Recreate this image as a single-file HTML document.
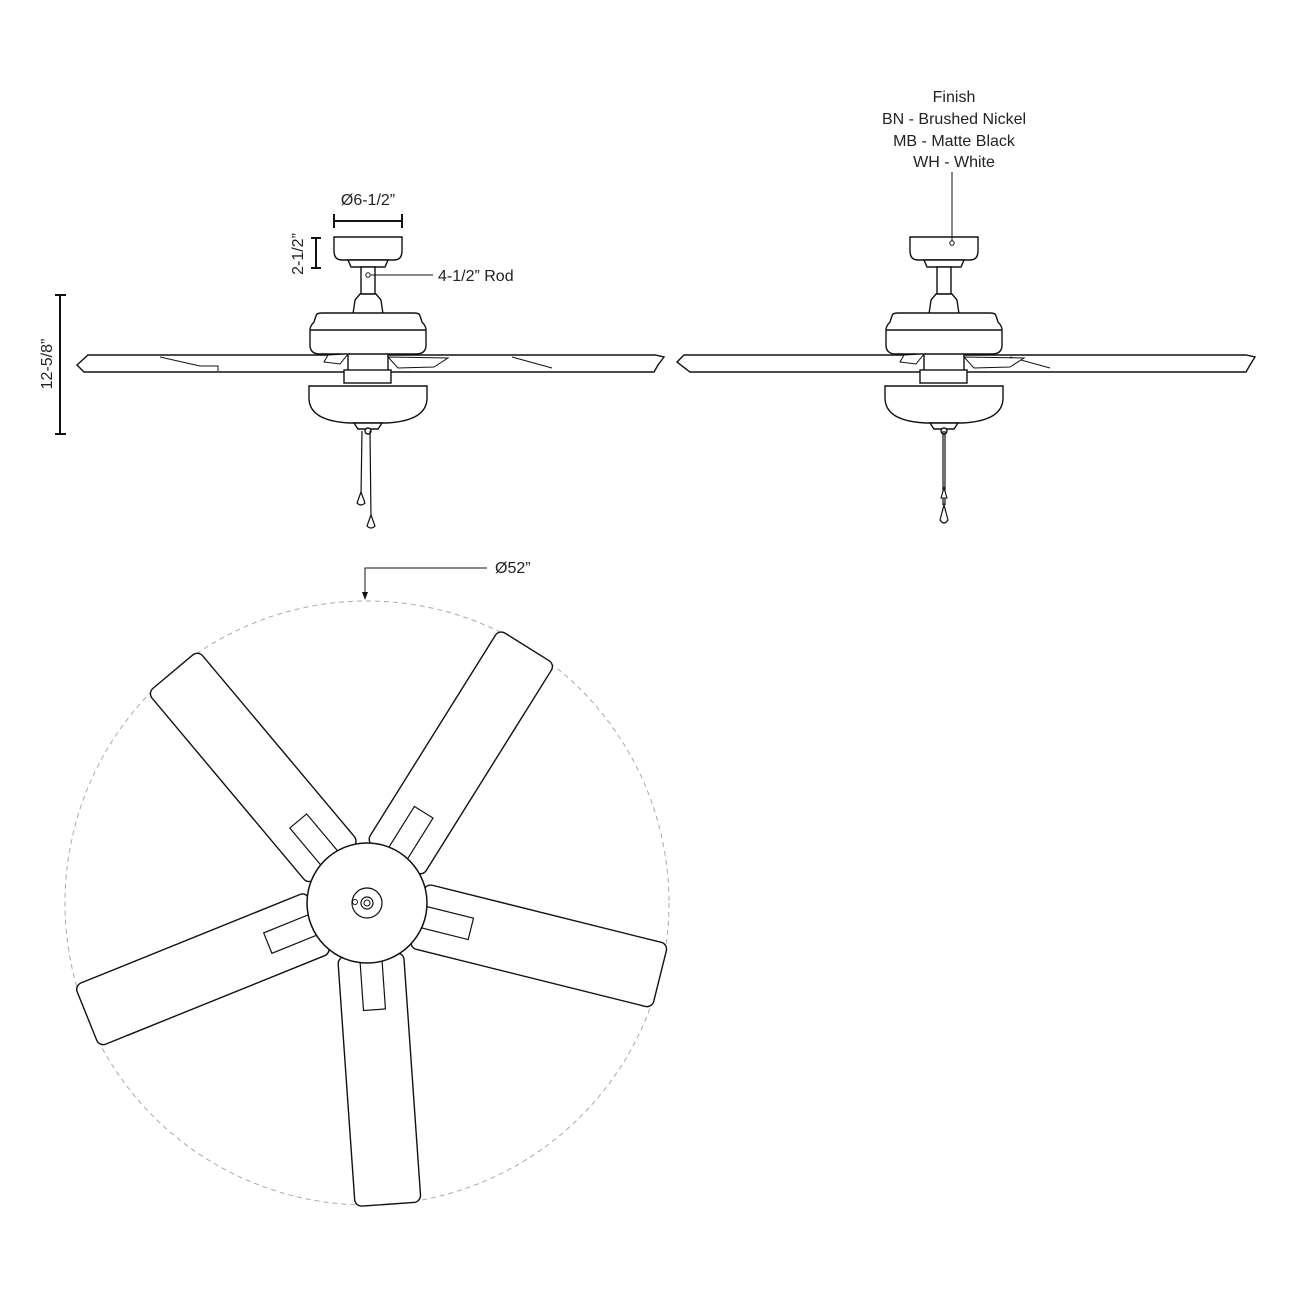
<!DOCTYPE html>
<html><head><meta charset="utf-8"><style>
html,body{margin:0;padding:0;background:#fff;}
svg{display:block;}
text{font-family:"Liberation Sans",Arial,sans-serif;fill:#222;}
</style></head><body>
<svg width="1296" height="1296" viewBox="0 0 1296 1296" xmlns="http://www.w3.org/2000/svg">
<defs>
<g id="fan" fill="#fff" stroke="#111" stroke-width="1.4">
  <path d="M-34,-129 H34 V-115 Q34,-106 26,-106 H-26 Q-34,-106 -34,-115 Z"/>
  <path d="M-20,-106 H20 L17,-99 H-17 Z"/>
  <rect x="-7" y="-99" width="14" height="27"/>
  <path d="M-8,-72 H8 L13,-66 L15,-52 H-15 L-13,-66 Z"/>
  <path d="M-52,-50 Q-52,-53 -46,-53 H46 Q52,-53 52,-50 L54,-44 Q58,-40 58,-36 V-21 Q58,-12 48,-12 H-48 Q-58,-12 -58,-21 V-36 Q-58,-40 -54,-44 Z"/>
  <line x1="-58" y1="-36" x2="58" y2="-36"/>
  <path d="M20,-9 L80,-8 L66,1 L30,2 Z" stroke-width="1"/>
  <path d="M-40,-11 L-20,-12 L-28,-2 L-44,-4 Z" stroke-width="1"/>
  <rect x="-24" y="4" width="47" height="13"/>
  <path d="M-59,20 H59 V32 Q59,55 18,57 H-18 Q-59,55 -59,32 Z"/>
  <path d="M-14,57 H14 L10,63 H-10 Z"/>
  <circle cx="0" cy="65" r="3"/>
</g>
<g id="blade">
  <rect x="52" y="-33" width="250" height="66" rx="7" fill="#fff" stroke="#111" stroke-width="1.4"/>
  <rect x="55" y="-11" width="52" height="22" fill="#fff" stroke="#111" stroke-width="1.2"/>
</g>
</defs>

<!-- Left side view blades -->
<g fill="#fff" stroke="#111" stroke-width="1.4">
  <path d="M77,365 L88,355 H348 V372 H84 Z"/>
  <path d="M160,357 L200,366 H218 V371" fill="none" stroke-width="1"/>
  <path d="M388,355 H655 L664,357 L658,365 L654,372 H388 Z"/>
  <path d="M512,357 L552,368" fill="none" stroke-width="1"/>
</g>
<use href="#fan" x="368" y="366"/>
<g stroke="#111" stroke-width="1.2" fill="none">
  <line x1="362" y1="431" x2="361" y2="495"/>
  <line x1="370" y1="431" x2="371" y2="518"/>
</g>
<path d="M361,492 L357,503 Q361,507 365,503 Z" fill="#fff" stroke="#111" stroke-width="1.2"/>
<path d="M371,515 L367,526 Q371,530 375,526 Z" fill="#fff" stroke="#111" stroke-width="1.2"/>

<!-- Right side view blades -->
<g fill="#fff" stroke="#111" stroke-width="1.4">
  <path d="M677,362 L684,355 H924 V372 H690 Z"/>
  <path d="M964,355 H1246 L1255,357 L1250,365 L1246,372 H964 Z"/>
  <path d="M1010,357 L1050,368" fill="none" stroke-width="1"/>
</g>
<use href="#fan" x="944" y="366"/>
<g stroke="#111" stroke-width="1.2" fill="none">
  <line x1="943" y1="431" x2="943" y2="505"/>
  <line x1="945" y1="431" x2="945" y2="505"/>
</g>
<path d="M944,488 L941,498 L947,498 Z" fill="#fff" stroke="#111" stroke-width="1.1"/>
<path d="M944,505 L940,520 Q944,526 948,520 Z" fill="#fff" stroke="#111" stroke-width="1.2"/>
<circle cx="952" cy="243" r="2.2" fill="#fff" stroke="#111" stroke-width="1"/>
<line x1="952" y1="172" x2="952" y2="241" stroke="#111" stroke-width="1"/>

<!-- dimensions -->
<g stroke="#111" stroke-width="2" fill="none">
  <line x1="334" y1="221" x2="402" y2="221"/>
  <line x1="334" y1="214" x2="334" y2="228"/>
  <line x1="402" y1="214" x2="402" y2="228"/>
  <line x1="316" y1="238" x2="316" y2="268"/>
  <line x1="311" y1="238" x2="321" y2="238"/>
  <line x1="311" y1="268" x2="321" y2="268"/>
  <line x1="60" y1="295" x2="60" y2="434"/>
  <line x1="55" y1="295" x2="66" y2="295"/>
  <line x1="55" y1="434" x2="66" y2="434"/>
</g>
<line x1="371" y1="275" x2="433" y2="275" stroke="#111" stroke-width="1"/>
<circle cx="368" cy="275" r="2.2" fill="#fff" stroke="#111" stroke-width="1"/>
<text x="368" y="205" font-size="16" text-anchor="middle">Ø6-1/2”</text>
<text x="438" y="281" font-size="16">4-1/2” Rod</text>
<text transform="translate(303,254) rotate(-90)" font-size="16" text-anchor="middle">2-1/2”</text>
<text transform="translate(52,364) rotate(-90)" font-size="16" text-anchor="middle">12-5/8”</text>

<text x="954" y="102" font-size="16" text-anchor="middle">Finish</text>
<text x="954" y="124" font-size="16" text-anchor="middle">BN - Brushed Nickel</text>
<text x="954" y="146" font-size="16" text-anchor="middle">MB - Matte Black</text>
<text x="954" y="167" font-size="16" text-anchor="middle">WH - White</text>

<!-- top view -->
<circle cx="367" cy="903" r="302" fill="none" stroke="#aaa" stroke-width="1" stroke-dasharray="5,4"/>
<path d="M365,594 V568 H487" fill="none" stroke="#111" stroke-width="1"/>
<path d="M362,592 L368,592 L365,600 Z" fill="#111"/>
<text x="495" y="573" font-size="16">Ø52”</text>

<g transform="translate(367,903)">
  <use href="#blade" transform="rotate(14)"/>
  <use href="#blade" transform="rotate(86)"/>
  <use href="#blade" transform="rotate(158)"/>
  <use href="#blade" transform="rotate(230)"/>
  <use href="#blade" transform="rotate(302)"/>
  <circle r="60" fill="#fff" stroke="#111" stroke-width="1.5"/>
  <circle r="15" fill="none" stroke="#111" stroke-width="1.2"/>
  <circle r="6" fill="none" stroke="#111" stroke-width="1.2"/>
  <circle r="3" fill="none" stroke="#111" stroke-width="1"/>
  <circle cx="-12" cy="-1" r="2.5" fill="#fff" stroke="#111" stroke-width="1"/>
</g>
</svg>
</body></html>
